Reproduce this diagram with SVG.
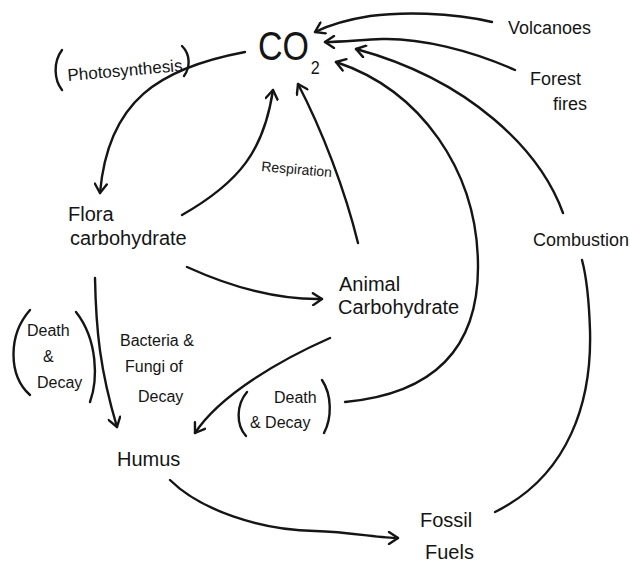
<svg xmlns="http://www.w3.org/2000/svg" width="630" height="571" viewBox="0 0 630 571">
<defs>
<style>
.c{fill:none;stroke:#151515;stroke-width:2.4;stroke-linecap:round;stroke-linejoin:round}
.t{font-family:"Liberation Sans","DejaVu Sans",sans-serif;fill:#151515}
.l{font-size:20px}
.s{font-size:16px}
</style>
<marker id="a" viewBox="-11 -7 13 14" markerWidth="13" markerHeight="14" refX="0" refY="0" orient="auto" markerUnits="userSpaceOnUse">
<path d="M-9,-6 L0,0 L-9,6" fill="none" stroke="#151515" stroke-width="2.4" stroke-linecap="round" stroke-linejoin="round"/>
</marker>
</defs>
<rect width="630" height="571" fill="#fff"/>
<g id="connectors">
<path class="c" d="M245,52 C160,68 108,100 100,193" marker-end="url(#a)"/>
<path class="c" d="M182,215 C240,182 264,150 273,90" marker-end="url(#a)"/>
<path class="c" d="M358,243 C345,190 322,130 298,84" marker-end="url(#a)"/>
<path class="c" d="M345,402 C420,395 478,360 478,267 C478,170 420,90 336,62" marker-end="url(#a)"/>
<path class="c" d="M563,213 C540,150 470,80 356,49" marker-end="url(#a)"/>
<path class="c" d="M495,512 C570,475 592,400 590,330 C589,300 586,275 582,260"/>
<path class="c" d="M515,70 C470,50 420,38 382,39 C360,40 340,42 325,42" marker-end="url(#a)"/>
<path class="c" d="M492,22 C450,12 400,12 370,16 C345,20 325,27 315,32" marker-end="url(#a)"/>
<path class="c" d="M187,267 C220,282 270,300 322,299" marker-end="url(#a)"/>
<path class="c" d="M95,278 C96,330 100,370 117,427" marker-end="url(#a)"/>
<path class="c" d="M330,338 C280,360 220,395 195,433" marker-end="url(#a)"/>
<path class="c" d="M170,480 C200,510 260,530 315,531 C350,532 380,538 398,538" marker-end="url(#a)"/>
</g>
<g id="co2"><text class="t" x="0" y="0" font-size="40" transform="translate(258 60) scale(0.85 1)">CO<tspan font-size="19" dy="14" dx="2">2</tspan></text></g>
<g id="volcanoes"><text class="t" x="508" y="34" font-size="18">Volcanoes</text></g>
<g id="forest-fires"><text class="t" x="530" y="85" font-size="18">Forest</text><text class="t" x="553" y="110" font-size="18">fires</text></g>
<g id="combustion"><text class="t" x="533" y="246" font-size="18">Combustion</text></g>
<g id="photosynthesis"><path class="c" d="M62,50 C53,62 54,80 62,90"/><text class="t" x="68" y="81" font-size="17" transform="rotate(-5 68 81)">Photosynthesis</text><path class="c" d="M182,46 C191,55 190,68 184,76"/></g>
<g id="respiration"><text class="t" x="261" y="171" font-size="14" transform="rotate(5 261 171)">Respiration</text></g>
<g id="flora"><text class="t l" x="68" y="221">Flora</text><text class="t l" x="70" y="245">carbohydrate</text></g>
<g id="animal"><text class="t l" x="339" y="291">Animal</text><text class="t l" x="338" y="314">Carbohydrate</text></g>
<g id="death-decay-left"><path class="c" d="M30,310 C8,335 8,375 30,395"/><text class="t s" x="27" y="336">Death</text><text class="t s" x="43" y="362">&amp;</text><text class="t s" x="37" y="388">Decay</text><path class="c" d="M76,312 C98,340 98,380 90,402"/></g>
<g id="bacteria"><text class="t s" x="120" y="346">Bacteria &amp;</text><text class="t s" x="125" y="372">Fungi of</text><text class="t s" x="138" y="402">Decay</text></g>
<g id="humus"><text class="t l" x="117" y="466">Humus</text></g>
<g id="death-decay-mid"><path class="c" d="M247,392 C236,405 236,425 246,436"/><text class="t s" x="274" y="403">Death</text><text class="t s" x="250" y="428">&amp; Decay</text><path class="c" d="M322,380 C332,395 332,418 324,433"/></g>
<g id="fossil"><text class="t l" x="420" y="527">Fossil</text><text class="t l" x="425" y="559">Fuels</text></g>
</svg>
